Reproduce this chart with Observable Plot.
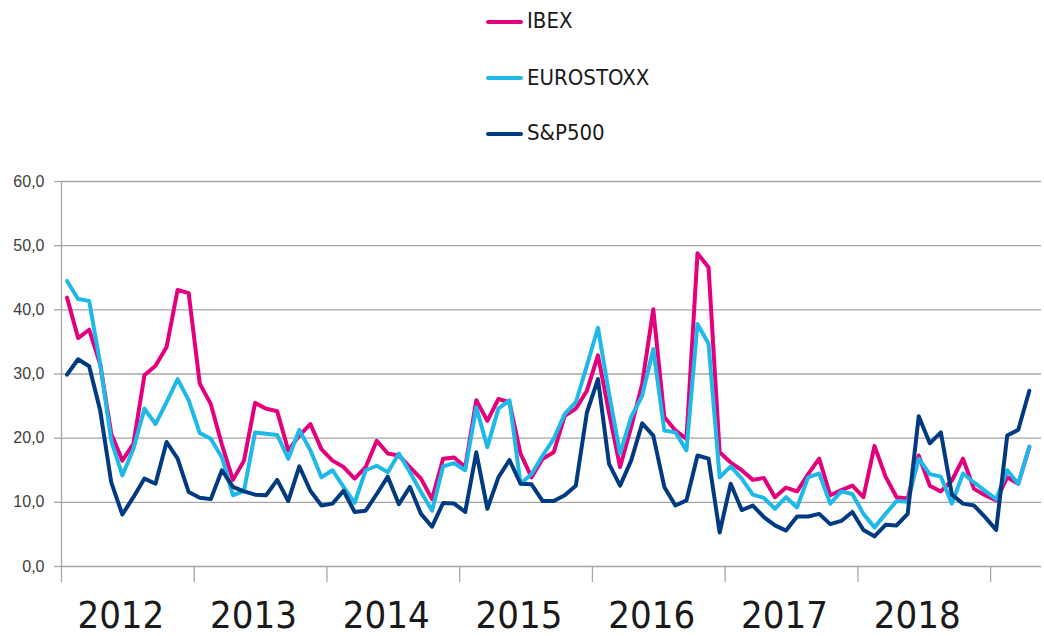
<!DOCTYPE html>
<html><head><meta charset="utf-8">
<script src="https://cdn.jsdelivr.net/npm/d3@7"></script>
<script src="https://cdn.jsdelivr.net/npm/@observablehq/plot@0.6"></script>
<style>
body{margin:0;background:#fff;}
#wrap{position:relative;width:1044px;height:636px;overflow:hidden;background:#fff;}
#legend{position:relative;height:160px;}
.sw{position:absolute;left:486px;width:37px;height:4px;border-radius:2px;}
.lt{position:absolute;left:527px;font-family:"Liberation Sans Narrow","DejaVu Sans Condensed",sans-serif;font-size:22px;line-height:24px;color:#1a1a1a;white-space:nowrap;}
</style></head><body>
<div id="wrap"><div id="legend"></div><div id="chart"></div></div>
<script>
// Year labels (category groups of 12 months each, Jan 2012 .. Apr 2019)
const years = ["2012","2013","2014","2015","2016","2017","2018"];
const yTicks = [0,10,20,30,40,50,60];
const seriesNames = ["IBEX","EUROSTOXX","S&P500"];
const seriesColors = ["#e4007c","#1fb9e9","#003a80"];

const ibex = [41.9,35.6,36.9,31.5,20.7,16.5,19.1,29.8,31.3,34.2,43.1,42.6,
  28.5,25.3,19.0,13.5,16.5,25.5,24.6,24.2,18.1,20.4,22.2,18.3,
  16.5,15.5,13.7,15.5,19.6,17.6,17.3,15.5,13.7,10.5,16.8,17.0,
  15.5,25.9,22.7,26.1,25.6,17.6,13.9,16.8,17.8,23.5,24.6,27.4,
  32.9,24.0,15.5,21.7,28.5,40.1,23.3,21.2,19.9,48.8,46.6,17.8,
  16.2,15.0,13.5,13.8,10.8,12.3,11.7,14.4,16.8,11.1,11.9,12.6,
  10.8,18.8,14.0,10.8,10.6,17.3,12.6,11.7,13.4,16.8,12.1,11.1,
  10.3,13.9,12.9,18.6];
const eurostoxx = [44.5,41.7,41.4,31.6,19.6,14.2,18.3,24.6,22.2,25.6,29.2,25.9,
  20.8,19.9,17.0,11.1,11.8,20.9,20.7,20.5,16.8,21.3,18.1,13.9,
  15.0,12.4,9.9,15.0,15.7,14.7,17.6,14.7,11.6,8.7,15.6,16.1,
  15.0,24.8,18.6,24.6,25.9,12.9,14.4,17.3,19.9,23.8,25.6,31.3,
  37.2,27.0,17.6,23.3,26.6,33.9,21.2,20.9,18.1,37.8,34.7,13.9,
  15.6,13.7,11.2,10.7,9.0,10.8,9.2,13.9,14.5,9.8,11.7,11.3,
  8.2,6.1,8.2,10.2,10.1,16.8,14.4,14.0,9.8,14.5,13.1,11.8,
  10.5,15.0,12.9,18.7];
const sp500 = [29.9,32.3,31.2,24.3,13.1,8.1,10.8,13.7,12.9,19.4,16.8,11.6,
  10.7,10.5,15.0,12.4,11.7,11.2,11.1,13.5,10.2,15.6,11.8,9.5,
  9.8,11.8,8.5,8.7,11.3,14.0,9.7,12.4,8.2,6.2,9.9,9.8,
  8.5,17.8,9.0,13.9,16.6,12.9,12.8,10.2,10.2,11.1,12.6,24.0,
  29.2,16.0,12.6,16.5,22.3,20.4,12.4,9.5,10.3,17.3,16.8,5.3,
  12.9,8.8,9.5,7.7,6.4,5.6,7.8,7.8,8.2,6.6,7.1,8.5,
  5.7,4.7,6.5,6.4,8.2,23.4,19.2,20.9,11.2,9.8,9.5,7.7,
  5.7,20.4,21.3,27.4];

const seriesValues = [ibex, eurostoxx, sp500];
const rows = [];
seriesNames.forEach((name, k) => seriesValues[k].forEach((v, i) => rows.push({series: name, month: i + 0.5, value: v})));
const yearStarts = d3.range(0, years.length + 1).map(k => k * 12);
const yearMids = years.map((y, k) => ({label: y, month: k * 12 + 6}));

// Legend (HTML, above the SVG)
const legend = document.getElementById("legend");
const lineTops = [20, 76, 132];
const textTops = [9, 66, 121];
seriesNames.forEach((name, k) => {
  const sw = document.createElement("div");
  sw.className = "sw";
  sw.style.top = lineTops[k] + "px";
  sw.style.background = seriesColors[k];
  legend.appendChild(sw);
  const t = document.createElement("div");
  t.className = "lt";
  t.style.top = textTops[k] + "px";
  t.textContent = name;
  legend.appendChild(t);
});

const grid = "#a6a6a6";
const chart = Plot.plot({
  width: 1044, height: 476,
  marginLeft: 61, marginRight: 3, marginTop: 21, marginBottom: 70,
  x: {domain: [0, 88.6], axis: null},
  y: {domain: [0, 60], axis: null},
  color: {domain: seriesNames, range: seriesColors},
  style: {fontFamily: "'Liberation Sans', Arial, sans-serif", background: "#fff", overflow: "visible"},
  marks: [
    Plot.gridY({ticks: yTicks, stroke: grid, strokeOpacity: 1, strokeWidth: 1.3}),
    Plot.axisY({ticks: yTicks, label: null, tickSize: 7, stroke: grid, strokeWidth: 1.3, tickPadding: 10,
      tickFormat: d => d.toFixed(1).replace(".", ","), fontSize: 16, fill: "#404040"}),
    Plot.axisX({ticks: yearStarts, label: null, tickSize: 16, stroke: grid, strokeWidth: 1.3, text: null}),
    Plot.ruleX([0], {stroke: grid, strokeWidth: 1.3}),
    Plot.lineY(rows, {x: "month", y: "value", z: "series", stroke: "series", strokeWidth: 4, strokeLinejoin: "round"}),
    Plot.text(yearMids, {x: "month", text: "label", frameAnchor: "bottom", dy: 61, dx: -7,
      fontSize: 38, fill: "#1a1a1a", fontFamily: "'Liberation Sans Narrow', 'DejaVu Sans Condensed', sans-serif"})
  ]
});
document.getElementById("chart").appendChild(chart);
</script>
</body></html>
